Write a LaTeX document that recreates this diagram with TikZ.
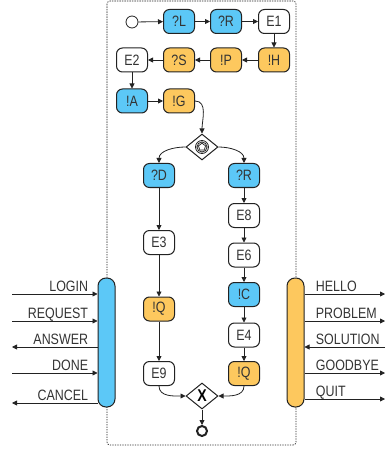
\documentclass[tikz,border=0pt]{standalone}
\usepackage{fontspec}
\setmainfont[FakeStretch=0.83]{Liberation Sans}
\usetikzlibrary{arrows.meta,shapes.geometric}
\definecolor{bluefill}{HTML}{5CC8F7}
\definecolor{orfill}{HTML}{FDC85E}
\definecolor{ink}{HTML}{222222}
\definecolor{txt}{HTML}{333333}
\begin{document}
\begin{tikzpicture}[x=1pt,y=1pt,font=\fontsize{15}{17}\selectfont,
  task/.style={draw=ink,line width=1pt,rounded corners=6pt,minimum width=31pt,minimum height=24pt,inner sep=0pt,text=txt},
  bt/.style={task,fill=bluefill},
  ot/.style={task,fill=orfill},
  wt/.style={task,fill=white},
  flow/.style={draw=ink,line width=0.8pt,-{Triangle[length=5pt,width=5pt]}},
  gw/.style={diamond,draw=ink,line width=1pt,fill=white,minimum width=32pt,minimum height=26pt,inner sep=0pt},
  bar/.style={draw=ink,line width=1pt,rounded corners=8pt,minimum width=17pt,minimum height=129pt,inner sep=0pt},
  lblL/.style={anchor=base east,xshift=-9pt,yshift=2.5pt,inner sep=0pt,text=txt},
  lblR/.style={anchor=base west,xshift=11pt,yshift=2.5pt,inner sep=0pt,text=txt}]
\useasboundingbox (0,0) rectangle (386,-454);
% pool boundary
\draw[ink,line width=0.7pt,dash pattern=on 1.3pt off 1.2pt,rounded corners=3pt] (107,-1) rectangle (296,-445);
% bars
\node[bar,fill=bluefill] (lbar) at (106.5,-342.5) {};
\node[bar,fill=orfill] (rbar) at (295.5,-342.5) {};
% start
\node[circle,draw=ink,line width=0.8pt,fill=white,minimum size=12pt,inner sep=0pt] (start) at (132,-22) {};
% row 1
\node[bt] (L) at (179,-21.5) {?L};
\node[bt] (R1) at (226,-21.5) {?R};
\node[wt] (E1) at (274,-21.5) {E1};
% row 2
\node[ot] (H) at (274,-60) {!H};
\node[ot] (P) at (226,-60) {!P};
\node[ot] (S) at (179,-60) {?S};
\node[wt] (E2) at (132,-60) {E2};
% row 3
\node[bt] (A) at (132,-101) {!A};
\node[ot] (G) at (179,-101) {!G};
% gateway 1
\node[gw] (d1) at (202,-147) {};
\draw[ink,line width=0.8pt] (d1.center) circle (6.5pt) circle (5pt);
\node[regular polygon,regular polygon sides=5,draw=ink,line width=0.7pt,minimum size=7.5pt,inner sep=0pt] at (d1.center) {};
% left branch
\node[bt] (D) at (159,-175.5) {?D};
\node[wt] (E3) at (159,-242.5) {E3};
\node[ot] (Q1) at (159,-309) {!Q};
\node[wt] (E9) at (159,-373.5) {E9};
% right branch
\node[bt] (R2) at (244,-175.5) {?R};
\node[wt] (E8) at (244,-215.5) {E8};
\node[wt] (E6) at (244,-255) {E6};
\node[bt] (C) at (244,-294.5) {!C};
\node[wt] (E4) at (244,-335) {E4};
\node[ot] (Q2) at (244,-373.5) {!Q};
% gateway 2
\node[gw,font=\fontsize{17}{17}\selectfont\bfseries] (d2) at (202,-396) {X};
\node[circle,draw=ink,line width=2pt,fill=white,minimum size=10pt,inner sep=0pt] (end) at (202,-431) {};
% flows
\draw[flow] (start) -- (L);
\draw[flow] (L) -- (R1);
\draw[flow] (R1) -- (E1);
\draw[flow] (E1) -- (H);
\draw[flow] (H) -- (P);
\draw[flow] (P) -- (S);
\draw[flow] (S) -- (E2);
\draw[flow] (E2) -- (A);
\draw[flow] (A) -- (G);
\draw[flow] (G.east) to[out=0,in=90] (d1.north);
\draw[flow] (d1.west) to[out=180,in=90] (D.north);
\draw[flow] (d1.east) to[out=0,in=90] (R2.north);
\draw[flow] (D) -- (E3);
\draw[flow] (E3) -- (Q1);
\draw[flow] (Q1) -- (E9);
\draw[flow] (R2) -- (E8);
\draw[flow] (E8) -- (E6);
\draw[flow] (E6) -- (C);
\draw[flow] (C) -- (E4);
\draw[flow] (E4) -- (Q2);
\draw[flow] (E9.south) to[out=-90,in=180] (d2.west);
\draw[flow] (Q2.south) to[out=-90,in=0] (d2.east);
\draw[flow] (d2) -- (end);
% left messages
\coordinate (l1) at (12,-294);
\coordinate (l2) at (12,-321);
\coordinate (l3) at (12,-347);
\coordinate (l4) at (12,-373);
\coordinate (l5) at (12,-403);
\draw[flow] (l1) -- (lbar.west |- l1) node[lblL] {LOGIN};
\draw[flow] (l2) -- (lbar.west |- l2) node[lblL] {REQUEST};
\draw[flow] (lbar.west |- l3) node[lblL] {ANSWER} -- (l3);
\draw[flow] (l4) -- (lbar.west |- l4) node[lblL] {DONE};
\draw[flow] (lbar.west |- l5) node[lblL] {CANCEL} -- (l5);
% right messages
\coordinate (r1) at (385,-294);
\coordinate (r2) at (385,-321);
\coordinate (r3) at (385,-347);
\coordinate (r4) at (385,-373);
\coordinate (r5) at (385,-399);
\draw[flow] (rbar.east |- r1) node[lblR] {HELLO} -- (r1);
\draw[flow] (rbar.east |- r2) node[lblR] {PROBLEM} -- (r2);
\draw[flow] (r3) -- (rbar.east |- r3) node[lblR] {SOLUTION};
\draw[flow] (rbar.east |- r4) node[lblR] {GOODBYE} -- (r4);
\draw[flow] (rbar.east |- r5) node[lblR] {QUIT} -- (r5);
\end{tikzpicture}
\end{document}
